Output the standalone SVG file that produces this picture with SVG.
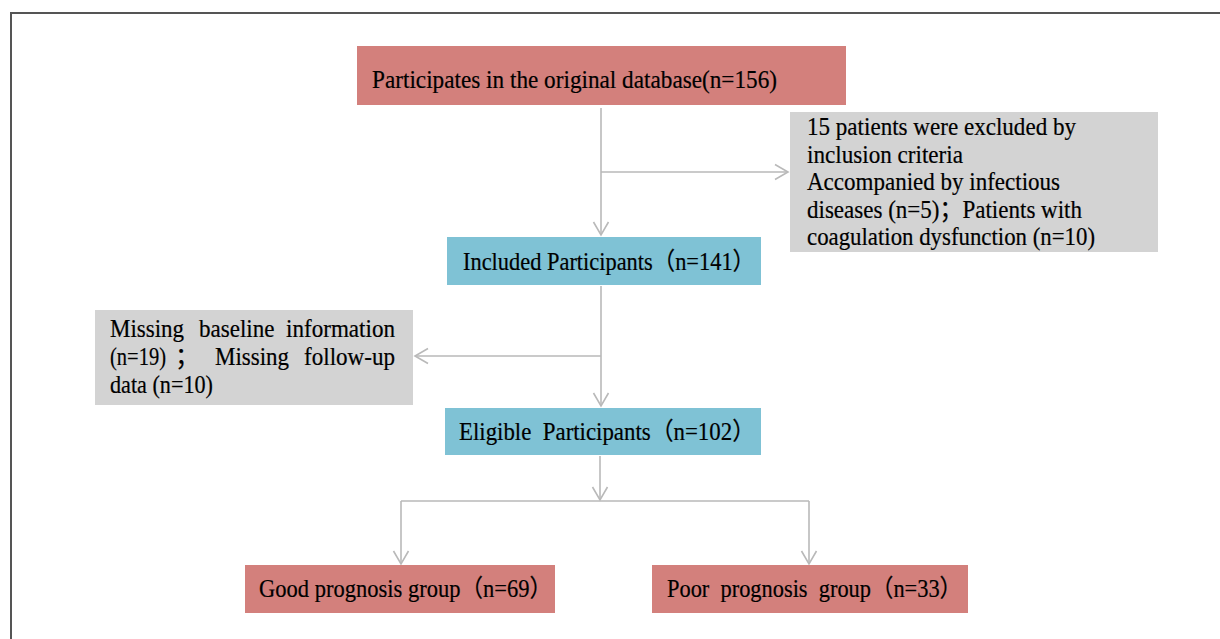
<svg xmlns="http://www.w3.org/2000/svg" width="1220" height="639" viewBox="0 0 1220 639">
<style>
.t{font-family:"Liberation Serif","Noto Sans CJK SC",serif;font-size:24.5px;fill:#000;stroke:#000;stroke-width:0.2;}
.red{fill:#D3807C;}
.blue{fill:#7FC2D5;}
.gray{fill:#D3D3D3;}
.c{fill:none;stroke:#B9B9B9;stroke-width:1.6;}
</style>
<defs>
<marker id="ah" viewBox="-15 -9 17 18" markerUnits="userSpaceOnUse" markerWidth="17" markerHeight="18" refX="0" refY="0" orient="auto">
<path d="M-13,-7.5 L0,0 L-13,7.5" fill="none" stroke="#B9B9B9" stroke-width="1.6"/>
</marker>
</defs>
<rect width="1220" height="639" fill="#fff"/>
<path d="M11,639 V13 H1220" fill="none" stroke="#555" stroke-width="2"/>

<g id="connectors">
<path class="c" d="M601,108 V235" marker-end="url(#ah)"/>
<path class="c" d="M601,172 H788" marker-end="url(#ah)"/>
<path class="c" d="M601,286 V406" marker-end="url(#ah)"/>
<path class="c" d="M601,356 H415" marker-end="url(#ah)"/>
<path class="c" d="M600,456 V500" marker-end="url(#ah)"/>
<path class="c" d="M401,501 H809"/>
<path class="c" d="M401,501 V564" marker-end="url(#ah)"/>
<path class="c" d="M809,501 V564" marker-end="url(#ah)"/>
</g>

<g id="n-original">
<rect class="red" x="357" y="46" width="489" height="59"/>
<text class="t" x="372" y="88" textLength="405" lengthAdjust="spacingAndGlyphs">Participates in the original database(n=156)</text>
</g>

<g id="n-excluded">
<rect class="gray" x="790" y="112" width="368" height="140"/>
<text class="t" x="807" y="135" textLength="269" lengthAdjust="spacingAndGlyphs">15 patients were excluded by</text>
<text class="t" x="807" y="162.5" textLength="156" lengthAdjust="spacingAndGlyphs">inclusion criteria</text>
<text class="t" x="807" y="190" textLength="253" lengthAdjust="spacingAndGlyphs">Accompanied by infectious</text>
<text class="t" x="807" y="217.5" textLength="275" lengthAdjust="spacingAndGlyphs">diseases (n=5)；Patients with</text>
<text class="t" x="807" y="245" textLength="288" lengthAdjust="spacingAndGlyphs">coagulation dysfunction (n=10)</text>
</g>

<g id="n-included">
<rect class="blue" x="447" y="237" width="314" height="48"/>
<text class="t" x="463" y="270" textLength="292" lengthAdjust="spacingAndGlyphs">Included Participants（n=141）</text>
</g>

<g id="n-missing">
<rect class="gray" x="95" y="310" width="318" height="95"/>
<text class="t" x="110" y="337" textLength="74" lengthAdjust="spacingAndGlyphs">Missing</text>
<text class="t" x="199" y="337" textLength="75.5" lengthAdjust="spacingAndGlyphs">baseline</text>
<text class="t" x="286" y="337" textLength="109" lengthAdjust="spacingAndGlyphs">information</text>
<text class="t" x="110" y="365" textLength="56" lengthAdjust="spacingAndGlyphs">(n=19)</text>
<text class="t" x="175" y="365">；</text>
<text class="t" x="215" y="365" textLength="74" lengthAdjust="spacingAndGlyphs">Missing</text>
<text class="t" x="304" y="365" textLength="91" lengthAdjust="spacingAndGlyphs">follow-up</text>
<text class="t" x="110" y="393" textLength="103" lengthAdjust="spacingAndGlyphs">data (n=10)</text>
</g>

<g id="n-eligible">
<rect class="blue" x="445" y="408" width="316" height="47"/>
<text class="t" x="459" y="440" xml:space="preserve" textLength="296" lengthAdjust="spacingAndGlyphs">Eligible  Participants（n=102）</text>
</g>

<g id="n-good">
<rect class="red" x="245" y="565" width="310" height="48"/>
<text class="t" x="259" y="597" textLength="293" lengthAdjust="spacingAndGlyphs">Good prognosis group（n=69）</text>
</g>

<g id="n-poor">
<rect class="red" x="652" y="565" width="316" height="48"/>
<text class="t" x="667" y="597" xml:space="preserve" textLength="295" lengthAdjust="spacingAndGlyphs">Poor  prognosis  group（n=33）</text>
</g>
</svg>
